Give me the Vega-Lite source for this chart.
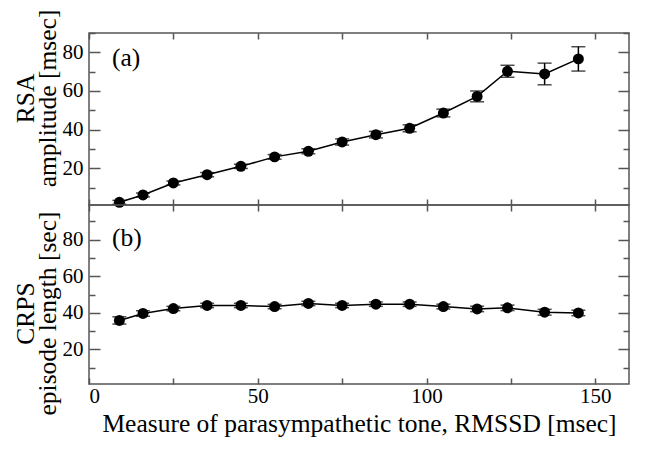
{
  "$schema": "https://vega.github.io/schema/vega-lite/v6.json",
  "padding": {"left": 12, "top": 8, "right": 12, "bottom": 8},
  "background": "white",
  "spacing": 0,
  "bounds": "flush",
  "config": {
    "view": {"stroke": "#555", "strokeWidth": 1.5},
    "font": "Liberation Serif",
    "axis": {"grid": false, "domain": false, "tickColor": "#555", "tickWidth": 1.5, "labelFont": "Liberation Serif", "labelFontSize": 21, "labelColor": "black", "titleFont": "Liberation Serif", "titleFontSize": 25.5, "titleFontWeight": "normal", "titleColor": "black"}
  },
  "datasets": {
    "rsa": [
      {"x": 9, "y": 2.4, "lo": 1.4, "hi": 3.4},
      {"x": 16, "y": 6.2, "lo": 5.2, "hi": 7.2},
      {"x": 25, "y": 12.4, "lo": 11.4, "hi": 13.4},
      {"x": 35, "y": 16.7, "lo": 15.6, "hi": 17.8},
      {"x": 45, "y": 21.0, "lo": 19.9, "hi": 22.1},
      {"x": 55, "y": 25.9, "lo": 24.7, "hi": 27.1},
      {"x": 65, "y": 28.8, "lo": 27.5, "hi": 30.1},
      {"x": 75, "y": 33.6, "lo": 32.0, "hi": 35.2},
      {"x": 85, "y": 37.4, "lo": 35.7, "hi": 39.1},
      {"x": 95, "y": 40.7, "lo": 38.9, "hi": 42.5},
      {"x": 105, "y": 48.6, "lo": 46.6, "hi": 50.6},
      {"x": 115, "y": 57.2, "lo": 54.4, "hi": 60.0},
      {"x": 124, "y": 70.2, "lo": 67.1, "hi": 73.3},
      {"x": 135, "y": 68.8, "lo": 63.2, "hi": 74.4},
      {"x": 145, "y": 76.6, "lo": 70.3, "hi": 82.9}
    ],
    "crps": [
      {"x": 9, "y": 35.8, "lo": 33.8, "hi": 37.8},
      {"x": 16, "y": 39.6, "lo": 38.1, "hi": 41.1},
      {"x": 25, "y": 42.3, "lo": 41.1, "hi": 43.5},
      {"x": 35, "y": 44.0, "lo": 42.8, "hi": 45.2},
      {"x": 45, "y": 44.0, "lo": 42.8, "hi": 45.2},
      {"x": 55, "y": 43.4, "lo": 42.2, "hi": 44.6},
      {"x": 65, "y": 45.1, "lo": 43.9, "hi": 46.3},
      {"x": 75, "y": 44.0, "lo": 42.8, "hi": 45.2},
      {"x": 85, "y": 44.7, "lo": 43.5, "hi": 45.9},
      {"x": 95, "y": 44.7, "lo": 43.5, "hi": 45.9},
      {"x": 105, "y": 43.4, "lo": 42.1, "hi": 44.7},
      {"x": 115, "y": 42.1, "lo": 40.6, "hi": 43.6},
      {"x": 124, "y": 42.7, "lo": 41.2, "hi": 44.2},
      {"x": 135, "y": 40.3, "lo": 38.7, "hi": 41.9},
      {"x": 145, "y": 39.9, "lo": 38.4, "hi": 41.4}
    ]
  },
  "vconcat": [
    {
      "width": 540,
      "height": 172,
      "resolve": {"axis": {"x": "independent", "y": "independent"}},
      "layer": [
        {
          "data": {"name": "rsa"},
          "mark": {"type": "rule", "color": "black", "strokeWidth": 1.5},
          "encoding": {
            "x": {"field": "x", "type": "quantitative", "scale": {"domain": [0, 160], "nice": false},
                  "axis": {"orient": "bottom", "values": [0, 25, 50, 75, 100, 125, 150], "tickSize": -6, "labels": false, "title": null}},
            "y": {"field": "lo", "type": "quantitative", "scale": {"domain": [1, 90], "nice": false, "zero": false},
                  "axis": {"orient": "left", "values": [10, 20, 30, 40, 50, 60, 70, 80, 90],
                           "tickSize": {"condition": {"test": "datum.value % 20 === 0", "value": -11}, "value": -6},
                           "labelExpr": "datum.value % 20 === 0 ? datum.label : ''", "labelPadding": 17,
                           "title": ["RSA\u00a0\u00a0\u00a0", "amplitude [msec]"], "titleY": 65, "titleAlign": "center", "titlePadding": 2, "titleLineHeight": 22}},
            "y2": {"field": "hi"}
          }
        },
        {
          "data": {"name": "rsa"},
          "mark": {"type": "tick", "orient": "horizontal", "color": "black", "size": 14, "thickness": 1.5},
          "encoding": {
            "x": {"field": "x", "type": "quantitative", "scale": {"domain": [0, 160], "nice": false}, "axis": null},
            "y": {"field": "lo", "type": "quantitative", "scale": {"domain": [1, 90], "nice": false, "zero": false}, "axis": null}
          }
        },
        {
          "data": {"name": "rsa"},
          "mark": {"type": "tick", "orient": "horizontal", "color": "black", "size": 14, "thickness": 1.5},
          "encoding": {
            "x": {"field": "x", "type": "quantitative", "scale": {"domain": [0, 160], "nice": false}, "axis": null},
            "y": {"field": "hi", "type": "quantitative", "scale": {"domain": [1, 90], "nice": false, "zero": false}, "axis": null}
          }
        },
        {
          "data": {"name": "rsa"},
          "mark": {"type": "line", "color": "black", "strokeWidth": 1.5},
          "encoding": {
            "x": {"field": "x", "type": "quantitative", "scale": {"domain": [0, 160], "nice": false},
                  "axis": {"orient": "top", "values": [0, 25, 50, 75, 100, 125, 150], "tickSize": -6, "labels": false, "title": null}},
            "y": {"field": "y", "type": "quantitative", "scale": {"domain": [1, 90], "nice": false, "zero": false},
                  "axis": {"orient": "right", "values": [10, 20, 30, 40, 50, 60, 70, 80, 90],
                           "tickSize": {"condition": {"test": "datum.value % 20 === 0", "value": -11}, "value": -6},
                           "labels": false, "title": null}}
          }
        },
        {
          "data": {"name": "rsa"},
          "mark": {"type": "point", "filled": true, "color": "black", "opacity": 1, "size": 120},
          "encoding": {
            "x": {"field": "x", "type": "quantitative", "scale": {"domain": [0, 160], "nice": false}, "axis": null},
            "y": {"field": "y", "type": "quantitative", "scale": {"domain": [1, 90], "nice": false, "zero": false}, "axis": null}
          }
        },
        {
          "data": {"values": [{"label": "(a)"}]},
          "mark": {"type": "text", "align": "left", "baseline": "middle", "fontSize": 25.5, "font": "Liberation Serif", "fill": "black"},
          "encoding": {
            "x": {"datum": 6.8, "type": "quantitative", "scale": {"domain": [0, 160], "nice": false}, "axis": null},
            "y": {"datum": 77, "type": "quantitative", "scale": {"domain": [1, 90], "nice": false, "zero": false}, "axis": null},
            "text": {"field": "label"}
          }
        }
      ]
    },
    {
      "width": 540,
      "height": 179,
      "resolve": {"axis": {"x": "independent", "y": "independent"}},
      "layer": [
        {
          "data": {"name": "crps"},
          "mark": {"type": "rule", "color": "black", "strokeWidth": 1.5},
          "encoding": {
            "x": {"field": "x", "type": "quantitative", "scale": {"domain": [0, 160], "nice": false},
                  "axis": {"orient": "bottom", "values": [0, 25, 50, 75, 100, 125, 150], "tickSize": -6,
                           "labelExpr": "datum.value % 50 === 0 ? datum.label : ''", "labelPadding": 7,
                           "title": "Measure of parasympathetic tone, RMSSD [msec]", "titlePadding": 5}},
            "y": {"field": "lo", "type": "quantitative", "scale": {"domain": [1, 99], "nice": false, "zero": false},
                  "axis": {"orient": "left", "values": [10, 20, 30, 40, 50, 60, 70, 80, 90],
                           "tickSize": {"condition": {"test": "datum.value % 20 === 0", "value": -11}, "value": -6},
                           "labelExpr": "datum.value % 20 === 0 ? datum.label : ''", "labelPadding": 17,
                           "title": ["CRPS", "episode length [sec]"], "titleY": 108, "titleAlign": "center", "titlePadding": 2, "titleLineHeight": 22}},
            "y2": {"field": "hi"}
          }
        },
        {
          "data": {"name": "crps"},
          "mark": {"type": "tick", "orient": "horizontal", "color": "black", "size": 14, "thickness": 1.5},
          "encoding": {
            "x": {"field": "x", "type": "quantitative", "scale": {"domain": [0, 160], "nice": false}, "axis": null},
            "y": {"field": "lo", "type": "quantitative", "scale": {"domain": [1, 99], "nice": false, "zero": false}, "axis": null}
          }
        },
        {
          "data": {"name": "crps"},
          "mark": {"type": "tick", "orient": "horizontal", "color": "black", "size": 14, "thickness": 1.5},
          "encoding": {
            "x": {"field": "x", "type": "quantitative", "scale": {"domain": [0, 160], "nice": false}, "axis": null},
            "y": {"field": "hi", "type": "quantitative", "scale": {"domain": [1, 99], "nice": false, "zero": false}, "axis": null}
          }
        },
        {
          "data": {"name": "crps"},
          "mark": {"type": "line", "color": "black", "strokeWidth": 1.5},
          "encoding": {
            "x": {"field": "x", "type": "quantitative", "scale": {"domain": [0, 160], "nice": false},
                  "axis": {"orient": "top", "values": [0, 25, 50, 75, 100, 125, 150], "tickSize": -6, "labels": false, "title": null}},
            "y": {"field": "y", "type": "quantitative", "scale": {"domain": [1, 99], "nice": false, "zero": false},
                  "axis": {"orient": "right", "values": [10, 20, 30, 40, 50, 60, 70, 80, 90],
                           "tickSize": {"condition": {"test": "datum.value % 20 === 0", "value": -11}, "value": -6},
                           "labels": false, "title": null}}
          }
        },
        {
          "data": {"name": "crps"},
          "mark": {"type": "point", "filled": true, "color": "black", "opacity": 1, "size": 120},
          "encoding": {
            "x": {"field": "x", "type": "quantitative", "scale": {"domain": [0, 160], "nice": false}, "axis": null},
            "y": {"field": "y", "type": "quantitative", "scale": {"domain": [1, 99], "nice": false, "zero": false}, "axis": null}
          }
        },
        {
          "data": {"values": [{"label": "(b)"}]},
          "mark": {"type": "text", "align": "left", "baseline": "middle", "fontSize": 25.5, "font": "Liberation Serif", "fill": "black"},
          "encoding": {
            "x": {"datum": 6.8, "type": "quantitative", "scale": {"domain": [0, 160], "nice": false}, "axis": null},
            "y": {"datum": 81, "type": "quantitative", "scale": {"domain": [1, 99], "nice": false, "zero": false}, "axis": null},
            "text": {"field": "label"}
          }
        }
      ]
    }
  ]
}
